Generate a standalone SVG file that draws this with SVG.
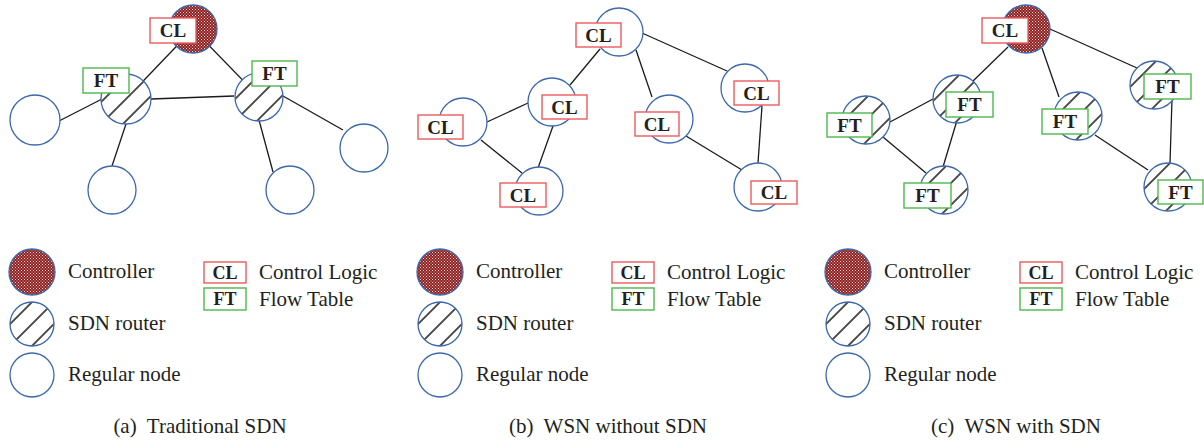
<svg xmlns="http://www.w3.org/2000/svg" width="1204" height="441" viewBox="0 0 1204 441">
<defs>
<pattern id="hatch" patternUnits="userSpaceOnUse" width="15.5" height="15.5" patternTransform="rotate(45) translate(-7.75 0)">
<rect width="15.5" height="15.5" fill="#fff"/>
<line x1="7.75" y1="-1" x2="7.75" y2="16.5" stroke="#000" stroke-width="1.4"/>
</pattern>
<pattern id="dots" patternUnits="userSpaceOnUse" width="3" height="3">
<rect width="3" height="3" fill="#8e1f1f"/>
<rect width="1" height="1" fill="#f2dede"/>
<rect x="1.5" y="1.5" width="1" height="1" fill="#e8c8c8"/>
</pattern>
<style>
.n{stroke:#3b68ad;stroke-width:1.3}
.reg{fill:#fff}
.rt{fill:url(#hatch)}
.ctl{fill:url(#dots) #952a2a}
.cl{fill:#fff;stroke:#ec5b5e;stroke-width:1.4}
.ft{fill:#fff;stroke:#4cb84c;stroke-width:1.4}
.bt{font-family:"Liberation Serif","Times New Roman",serif;font-weight:bold;font-size:19px;fill:#231f20;text-anchor:middle}
.lbt{font-family:"Liberation Serif","Times New Roman",serif;font-weight:bold;font-size:18px;fill:#231f20;text-anchor:middle}
.lt{font-family:"Liberation Serif","Times New Roman",serif;font-size:21px;fill:#231f20}
.cap{font-family:"Liberation Serif","Times New Roman",serif;font-size:21px;fill:#231f20;text-anchor:middle}
.conn line{stroke:#1a1a1a;stroke-width:1.3}
</style>
</defs>
<rect width="1204" height="441" fill="#fff"/>

<!-- Panel (a) -->
<g id="a-connectors" class="conn">
<line x1="193" y1="29" x2="126" y2="99"/>
<line x1="193" y1="29" x2="259" y2="97"/>
<line x1="151" y1="99" x2="234" y2="96"/>
<line x1="59" y1="121" x2="102" y2="99"/>
<line x1="126" y1="124" x2="112" y2="166"/>
<line x1="259" y1="120" x2="273" y2="172"/>
<line x1="283" y1="96" x2="343" y2="130"/>
</g>
<g id="a-controller"><circle class="n ctl" cx="193" cy="29" r="24"/><rect class="cl" x="150" y="18" width="46" height="25"/><text class="bt" x="173" y="37">CL</text></g>
<g id="a-router1"><circle class="n rt" transform="translate(126 99)" r="25"/><rect class="ft" x="83" y="68" width="46" height="25"/><text class="bt" x="106" y="87">FT</text></g>
<g id="a-router2"><circle class="n rt" transform="translate(259 97)" r="24"/><rect class="ft" x="252" y="61" width="45" height="25"/><text class="bt" x="274.5" y="80">FT</text></g>
<g id="a-node1"><circle class="n reg" cx="35" cy="120" r="25"/></g>
<g id="a-node2"><circle class="n reg" cx="112" cy="190" r="24"/></g>
<g id="a-node3"><circle class="n reg" cx="290" cy="190" r="24"/></g>
<g id="a-node4"><circle class="n reg" cx="364" cy="148" r="24"/></g>

<!-- Panel (b) -->
<g id="b-connectors" class="conn">
<line x1="600" y1="49" x2="570" y2="85"/>
<line x1="642" y1="33" x2="727" y2="71"/>
<line x1="636" y1="50" x2="652" y2="97"/>
<line x1="528" y1="103" x2="487" y2="122"/>
<line x1="481" y1="140" x2="522" y2="173"/>
<line x1="553" y1="126" x2="538" y2="168"/>
<line x1="686" y1="136" x2="742" y2="170"/>
<line x1="762" y1="106" x2="758" y2="163"/>
</g>
<g id="b-top"><circle class="n reg" cx="619" cy="32" r="24"/><rect class="cl" x="576" y="23" width="45" height="24"/><text class="bt" x="598.5" y="41.5">CL</text></g>
<g id="b-midleft"><circle class="n reg" cx="552" cy="102" r="24"/><rect class="cl" x="542" y="95" width="45" height="24"/><text class="bt" x="564.5" y="113.5">CL</text></g>
<g id="b-farleft"><circle class="n reg" cx="463" cy="122" r="24"/><rect class="cl" x="418" y="115" width="45" height="24"/><text class="bt" x="440.5" y="133.5">CL</text></g>
<g id="b-bottom"><circle class="n reg" cx="539" cy="191" r="24"/><rect class="cl" x="500" y="183" width="46" height="24"/><text class="bt" x="523" y="201.5">CL</text></g>
<g id="b-middle"><circle class="n reg" cx="669" cy="119" r="24"/><rect class="cl" x="635" y="112" width="44" height="24"/><text class="bt" x="657" y="130.5">CL</text></g>
<g id="b-rightup"><circle class="n reg" cx="745" cy="88" r="24"/><rect class="cl" x="734" y="81" width="45" height="24"/><text class="bt" x="756.5" y="99.5">CL</text></g>
<g id="b-rightbottom"><circle class="n reg" cx="758" cy="187" r="24"/><rect class="cl" x="751" y="181" width="46" height="23"/><text class="bt" x="774" y="199">CL</text></g>

<!-- Panel (c) -->
<g id="c-connectors" class="conn">
<line x1="1008" y1="47" x2="973" y2="81"/>
<line x1="1050" y1="29" x2="1137" y2="68"/>
<line x1="1042" y1="48" x2="1059" y2="97"/>
<line x1="933" y1="99" x2="890" y2="122"/>
<line x1="883" y1="137" x2="926" y2="173"/>
<line x1="958" y1="117" x2="943" y2="167"/>
<line x1="1095" y1="135" x2="1148" y2="170"/>
<line x1="1172" y1="99" x2="1170" y2="163"/>
</g>
<g id="c-controller"><circle class="n ctl" cx="1026" cy="29" r="24"/><rect class="cl" x="982" y="18" width="46" height="25"/><text class="bt" x="1005" y="37">CL</text></g>
<g id="c-midleft"><circle class="n rt" transform="translate(957 99)" r="24"/><rect class="ft" x="946" y="92" width="47" height="25"/><text class="bt" x="969.5" y="111">FT</text></g>
<g id="c-farleft"><circle class="n rt" transform="translate(866 120)" r="24"/><rect class="ft" x="827" y="113" width="45" height="24"/><text class="bt" x="849.5" y="131.5">FT</text></g>
<g id="c-bottom"><circle class="n rt" transform="translate(944 190)" r="24"/><rect class="ft" x="904" y="183" width="47" height="25"/><text class="bt" x="927.5" y="202">FT</text></g>
<g id="c-middle"><circle class="n rt" transform="translate(1078 116)" r="24"/><rect class="ft" x="1042" y="109" width="46" height="25"/><text class="bt" x="1065" y="128">FT</text></g>
<g id="c-rightup"><circle class="n rt" transform="translate(1154 85)" r="24"/><rect class="ft" x="1144" y="74" width="47" height="25"/><text class="bt" x="1167.5" y="93">FT</text></g>
<g id="c-rightbottom"><circle class="n rt" transform="translate(1168 187)" r="24"/><rect class="ft" x="1158" y="180" width="45" height="24"/><text class="bt" x="1180.5" y="198.5">FT</text></g>

<!-- Legends -->
<g id="legend-a">
<circle class="n ctl" cx="32" cy="272" r="23"/>
<circle class="n rt" transform="translate(32 324)" r="22"/>
<circle class="n reg" cx="32" cy="375" r="22"/>
<text class="lt" x="68" y="278">Controller</text>
<text class="lt" x="68" y="330">SDN router</text>
<text class="lt" x="68" y="381">Regular node</text>
<rect class="cl" x="204" y="262" width="42" height="21"/><text class="lbt" x="225" y="279">CL</text>
<text class="lt" x="259" y="279">Control Logic</text>
<rect class="ft" x="204" y="288" width="42" height="22"/><text class="lbt" x="225" y="305">FT</text>
<text class="lt" x="259" y="306">Flow Table</text>
<text class="cap" x="200" y="433">(a)&#160; Traditional SDN</text>
</g>
<g id="legend-b" transform="translate(408 0)">
<circle class="n ctl" cx="32" cy="272" r="23"/>
<circle class="n rt" transform="translate(32 324)" r="22"/>
<circle class="n reg" cx="32" cy="375" r="22"/>
<text class="lt" x="68" y="278">Controller</text>
<text class="lt" x="68" y="330">SDN router</text>
<text class="lt" x="68" y="381">Regular node</text>
<rect class="cl" x="204" y="262" width="42" height="21"/><text class="lbt" x="225" y="279">CL</text>
<text class="lt" x="259" y="279">Control Logic</text>
<rect class="ft" x="204" y="288" width="42" height="22"/><text class="lbt" x="225" y="305">FT</text>
<text class="lt" x="259" y="306">Flow Table</text>
<text class="cap" x="200" y="433">(b)&#160; WSN without SDN</text>
</g>
<g id="legend-c" transform="translate(816 0)">
<circle class="n ctl" cx="32" cy="272" r="23"/>
<circle class="n rt" transform="translate(32 324)" r="22"/>
<circle class="n reg" cx="32" cy="375" r="22"/>
<text class="lt" x="68" y="278">Controller</text>
<text class="lt" x="68" y="330">SDN router</text>
<text class="lt" x="68" y="381">Regular node</text>
<rect class="cl" x="204" y="262" width="42" height="21"/><text class="lbt" x="225" y="279">CL</text>
<text class="lt" x="259" y="279">Control Logic</text>
<rect class="ft" x="204" y="288" width="42" height="22"/><text class="lbt" x="225" y="305">FT</text>
<text class="lt" x="259" y="306">Flow Table</text>
<text class="cap" x="200" y="433">(c)&#160; WSN with SDN</text>
</g>
</svg>
